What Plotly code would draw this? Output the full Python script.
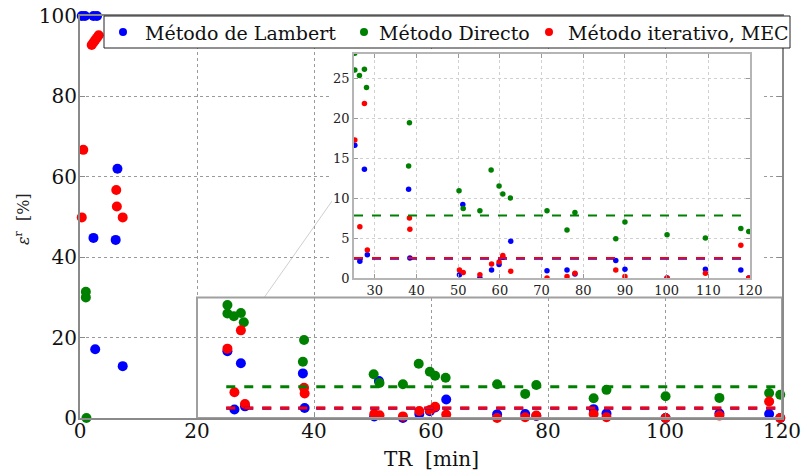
import plotly.graph_objects as go

# ---------------- data ----------------
lambert_x = [0.3, 0.85, 2.3, 2.9, 6.4, 2.3, 6.1, 2.6, 7.3,
             25.2, 26.4, 27.5, 28.2, 38.1, 38.4, 50.3, 51.1, 55.2, 58.0, 59.8, 60.7, 62.6,
             71.3, 76.1, 78.0, 87.8, 90.0, 100.1, 109.3, 117.8, 119.7]
lambert_y = [100, 100, 100, 100, 62.0, 44.8, 44.3, 17.1, 12.9,
             16.6, 2.1, 13.6, 2.9, 11.1, 2.5, 0.4, 9.2, 0.0, 1.0, 1.7, 2.6, 4.6,
             0.9, 1.0, 0.5, 2.2, 1.1, 0.0, 1.1, 1.0, 0.0]

directo_x = [1.0, 1.0, 1.1,
             25.2, 25.2, 26.3, 27.5, 28.0, 38.3, 38.1, 50.2, 51.2, 55.2, 57.9, 59.8, 60.7, 62.5,
             71.3, 76.1, 78.0, 87.8, 90.0, 100.1, 109.3, 117.8, 119.7]
directo_y = [31.4, 30.0, 0.0,
             28.1, 26.0, 25.3, 26.1, 23.8, 19.4, 14.0, 10.9, 8.7, 8.4, 13.5, 11.5, 10.5, 10.0,
             8.4, 6.0, 8.2, 4.9, 7.0, 5.4, 5.0, 6.2, 5.8]

mec_x = [0.56, 0.3, 2.0, 2.3, 2.6, 2.9, 3.2, 6.2, 6.3, 7.3,
         25.2, 26.4, 27.5, 28.2, 38.3, 38.4, 50.3, 51.2, 55.2, 58.0, 59.8, 60.7, 62.6,
         71.3, 76.1, 78.0, 87.8, 90.0, 100.1, 109.3, 117.8, 119.7]
mec_y = [66.7, 49.9, 92.8, 93.4, 94.0, 94.6, 95.2, 56.7, 52.6, 49.9,
         17.25, 6.4, 21.8, 3.5, 7.5, 6.1, 1.0, 0.7, 0.4, 1.75, 2.0, 2.8, 0.85,
         0.0, 0.2, 0.6, 1.0, 0.2, 0.0, 0.6, 4.1, 0.0]

# mean lines (over TR >= 25 min)
mean_x = [25, 120]
mean_lambert = 2.4
mean_directo = 7.8
mean_mec = 2.5

names = ["Método de Lambert", "Método Directo", "Método iterativo, MEC"]
colors = ["#0000ff", "#008000", "#ff0000"]

main_xticks = [0, 20, 40, 60, 80, 100, 120]
main_yticks = [0, 20, 40, 60, 80, 100]
inset_xticks = [30, 40, 50, 60, 70, 80, 90, 100, 110, 120]
inset_yticks = [0, 5, 10, 15, 20, 25]

FONT = "DejaVu Serif"

series = [(lambert_x, lambert_y), (directo_x, directo_y), (mec_x, mec_y)]

fig = go.Figure()

# main scatter
for (xs, ys), n, c in zip(series, names, colors):
    fig.add_trace(go.Scatter(x=xs, y=ys, mode="markers", name=n, showlegend=False,
                             marker=dict(color=c, size=10, line=dict(width=0)),
                             cliponaxis=False, xaxis="x", yaxis="y"))
# main mean lines
for m, c in zip([mean_directo, mean_lambert, mean_mec], [colors[1], colors[0], colors[2]]):
    fig.add_trace(go.Scatter(x=mean_x, y=[m, m], mode="lines", showlegend=False,
                             line=dict(color=c, width=3, dash="dash"),
                             xaxis="x", yaxis="y"))

# cover (blank white panel behind inset) - x2/y2
fig.add_trace(go.Scatter(x=[0], y=[0], mode="markers", marker=dict(opacity=0),
                         showlegend=False, hoverinfo="skip", xaxis="x2", yaxis="y2"))

# inset scatter - x3/y3
for (xs, ys), n, c in zip(series, names, colors):
    fig.add_trace(go.Scatter(x=xs, y=ys, mode="markers", showlegend=False,
                             marker=dict(color=c, size=5.5, line=dict(width=0)),
                             xaxis="x3", yaxis="y3"))
for m, c in zip([mean_directo, mean_lambert, mean_mec], [colors[1], colors[0], colors[2]]):
    fig.add_trace(go.Scatter(x=mean_x, y=[m, m], mode="lines", showlegend=False,
                             line=dict(color=c, width=2, dash="dash"),
                             xaxis="x3", yaxis="y3"))

W, H = 803, 472
L, R, T, B = 80, 21, 16, 54
pw, ph = W - L - R, H - T - B

def px_x(p):
    return (p - L) / pw

def px_y(p):
    return (H - B - p) / ph

axis_gray = "#8a8a8a"

fig.update_layout(
    width=W, height=H,
    margin=dict(l=L, r=R, t=T, b=B, autoexpand=False),
    paper_bgcolor="white", plot_bgcolor="white",
    font=dict(family=FONT, color="#111111"),
    showlegend=False,
    xaxis=dict(domain=[0, 1], range=[0, 120], tickvals=main_xticks, automargin=False,
               ticks="inside", ticklen=5, tickcolor=axis_gray, ticklabelstandoff=-6,
               showline=True, linecolor=axis_gray, linewidth=2, mirror="ticks",
               showgrid=True, gridcolor="#9a9a9a", griddash="dot", gridwidth=1,
               zeroline=False, tickfont=dict(size=20, family=FONT, color="#111111")),
    yaxis=dict(domain=[0, 1], range=[0, 100], tickvals=main_yticks, automargin=False,
               ticks="inside", ticklen=5, tickcolor=axis_gray, ticklabelstandoff=-3,
               showline=True, linecolor=axis_gray, linewidth=2, mirror="ticks",
               showgrid=True, gridcolor="#9a9a9a", griddash="dot", gridwidth=1,
               zeroline=False, tickfont=dict(size=20, family=FONT, color="#111111")),
    xaxis2=dict(domain=[px_x(332), px_x(764)], range=[0, 1], visible=False,
                anchor="y2", fixedrange=True, automargin=False),
    yaxis2=dict(domain=[px_y(295), px_y(52)], range=[0, 1], visible=False,
                anchor="x2", fixedrange=True, automargin=False),
    xaxis3=dict(domain=[px_x(354), px_x(750)], range=[25, 120], tickvals=inset_xticks,
                anchor="y3", ticks="inside", ticklen=4, tickcolor="#999999", automargin=False,
                showline=True, linecolor="#b5b5b5", linewidth=1.5, mirror="ticks",
                showgrid=True, gridcolor="#d0d0d0", griddash="dot", gridwidth=1,
                zeroline=False, tickfont=dict(size=13, family=FONT, color="#222222")),
    yaxis3=dict(domain=[px_y(278), px_y(54)], range=[0, 28], tickvals=inset_yticks,
                anchor="x3", ticks="inside", ticklen=4, tickcolor="#999999", automargin=False,
                showline=True, linecolor="#b5b5b5", linewidth=1.5, mirror="ticks",
                showgrid=True, gridcolor="#d0d0d0", griddash="dot", gridwidth=1,
                zeroline=False, tickfont=dict(size=13, family=FONT, color="#222222")),
)

# zoom rectangle and connector
fig.add_shape(type="rect", xref="x", yref="y", x0=20, x1=120, y0=0, y1=30,
              line=dict(color="#a0a0a0", width=2), layer="above")
fig.add_shape(type="line", xref="x", yref="y", x0=31.5, y0=30, x1=46, y1=60,
              line=dict(color="#cfcfcf", width=1), layer="below")

# ----- legend (box, markers, labels) -----
leg_left, leg_right, leg_top, leg_bot = 104, 790, 16, 48
leg_cy = (leg_top + leg_bot) / 2
fig.add_shape(type="rect", xref="paper", yref="paper",
              x0=px_x(leg_left), x1=px_x(leg_right), y0=px_y(leg_bot), y1=px_y(leg_top),
              line=dict(color="#222222", width=1), fillcolor="white", layer="above")
dot_px = [123, 364, 549]
text_px = [143, 377, 566]
for dx, tx, n, c in zip(dot_px, text_px, names, colors):
    fig.add_shape(type="circle", xref="paper", yref="paper",
                  xsizemode="pixel", ysizemode="pixel",
                  xanchor=px_x(dx), yanchor=px_y(leg_cy),
                  x0=-4, x1=4, y0=-4, y1=4,
                  fillcolor=c, line=dict(width=0), layer="above")
    fig.add_annotation(text=n, xref="paper", yref="paper", x=px_x(tx), y=px_y(leg_cy + 1),
                       xanchor="left", yanchor="middle", showarrow=False,
                       font=dict(family=FONT, size=19, color="#111111"))

# axis titles
fig.add_annotation(text="<i>ε</i><sup>r</sup>\u00a0 [%]", xref="paper", yref="paper",
                   x=px_x(22), y=0.495, textangle=-90, showarrow=False,
                   xanchor="center", yanchor="middle",
                   font=dict(family=FONT, size=16, color="#222222"))
fig.add_annotation(text="TR\u00a0 [min]", xref="paper", yref="paper",
                   x=0.5, y=px_y(459), showarrow=False,
                   xanchor="center", yanchor="middle",
                   font=dict(family=FONT, size=20, color="#111111"))

fig.write_html("out.html")
